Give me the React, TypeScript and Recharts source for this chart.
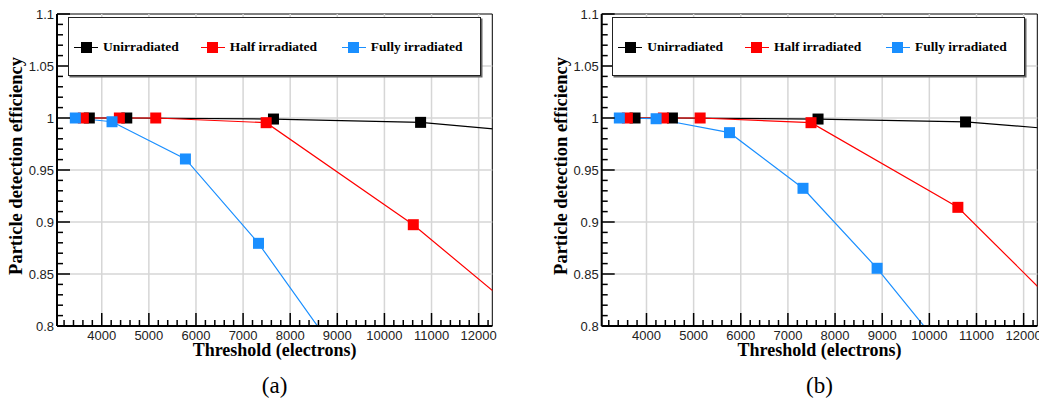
import React from 'react';
import { LineChart, Line, XAxis, YAxis, ReferenceLine, ReferenceArea } from 'recharts';

// ---------- axis configuration ----------
const X_DOMAIN: [number, number] = [3050, 12290];
const Y_DOMAIN: [number, number] = [0.8, 1.1];
const xMajorTicks = [4000, 5000, 6000, 7000, 8000, 9000, 10000, 11000, 12000];
const xAllTicks = Array.from({ length: 46 }, (_, i) => 3200 + i * 200);
const yMajorTicks = [0.8, 0.85, 0.9, 0.95, 1, 1.05, 1.1];
const yAllTicks = Array.from({ length: 31 }, (_, i) => Math.round((0.8 + i * 0.01) * 100) / 100);
const yGridValues = [0.85, 0.9, 0.95, 1, 1.05];

// ---------- series names / colours ----------
const seriesNames = ['Unirradiated', 'Half irradiated', 'Fully irradiated'];
const seriesColors = ['#000000', '#ff0000', '#1a8fff'];

// ---------- panel (a) data ----------
const unirrA_x = [3736, 4531, 7645, 10768, 13700];
const unirrA_y = [1.0, 1.0, 0.999, 0.9958, 0.984];
const halfA_x = [3609, 4374, 5146, 7490, 10613, 13700];
const halfA_y = [1.0, 1.0, 1.0, 0.9955, 0.8974, 0.781];
const fullA_x = [3439, 4218, 5776, 7327, 8900];
const fullA_y = [1.0, 0.9964, 0.9606, 0.8795, 0.7796];

// ---------- panel (b) data ----------
const unirrB_x = [3757, 4550, 7639, 10768, 13700];
const unirrB_y = [1.0, 1.0, 0.999, 0.9962, 0.9856];
const halfB_x = [3594, 4359, 5138, 7490, 10605, 13700];
const halfB_y = [1.0, 1.0, 1.0, 0.9955, 0.9141, 0.775];
const fullB_x = [3424, 4204, 5761, 7320, 8892, 10600];
const fullB_y = [1.0, 0.9993, 0.9859, 0.9324, 0.8555, 0.76];

const toPoints = (xs: number[], ys: number[]) => xs.map((x, i) => ({ x, y: ys[i] }));

const SANS = "'Liberation Sans', Arial, Helvetica, sans-serif";
const SERIF = "'Liberation Serif', 'Times New Roman', Times, serif";

const XTick = (props: any) => {
  const { x, y, payload } = props;
  const v = payload.value;
  const major = xMajorTicks.includes(v);
  return (
    <g>
      <line x1={x} x2={x} y1={y} y2={y - (major ? 13 : 6)} stroke="#000" strokeWidth={1.5} />
      {major && (
        <text x={x} y={y + 13.5} textAnchor="middle" fontFamily={SANS} fontSize={13} fill="#222">
          {v}
        </text>
      )}
    </g>
  );
};

const YTick = (props: any) => {
  const { x, y, payload } = props;
  const v = payload.value;
  const major = yMajorTicks.some((m) => Math.abs(m - v) < 1e-6);
  return (
    <g>
      <line x1={x} x2={x + (major ? 13 : 6)} y1={y} y2={y} stroke="#000" strokeWidth={1.5} />
      {major && (
        <text x={x - 3} y={y + 4.5} textAnchor="end" fontFamily={SANS} fontSize={13} fill="#222">
          {String(v)}
        </text>
      )}
    </g>
  );
};

const makeSquare = (color: string) => (props: any) => {
  const { cx, cy, index } = props;
  if (cx == null || cy == null) return <g key={index} />;
  return <rect key={index} x={cx - 5.5} y={cy - 5.5} width={11} height={11} fill={color} />;
};

type PanelProps = {
  left: number;
  width: number;
  marginLeft: number;
  marginRight: number;
  series: { x: number; y: number }[][];
};

const Panel = ({ left, width, marginLeft, marginRight, series }: PanelProps) => (
  <div style={{ position: 'absolute', left, top: 0 }}>
    <LineChart
      width={width}
      height={404}
      margin={{ top: 14, right: marginRight, bottom: 48, left: marginLeft }}
    >
      <XAxis
        type="number"
        dataKey="x"
        domain={X_DOMAIN}
        allowDataOverflow
        ticks={xAllTicks}
        interval={0}
        tickSize={0}
        tickMargin={0}
        tickLine={false}
        tick={<XTick />}
        height={30}
        axisLine={{ stroke: '#000', strokeWidth: 2 }}
      />
      <YAxis
        type="number"
        dataKey="y"
        domain={Y_DOMAIN}
        allowDataOverflow
        ticks={yAllTicks}
        interval={0}
        tickSize={0}
        tickMargin={0}
        tickLine={false}
        tick={<YTick />}
        width={40}
        axisLine={{ stroke: '#000', strokeWidth: 2 }}
      />
      {xMajorTicks.map((v) => (
        <ReferenceLine key={'gx' + v} x={v} stroke="#d6d6d6" strokeWidth={1.5} />
      ))}
      {yGridValues.map((v) => (
        <ReferenceLine key={'gy' + v} y={v} stroke="#d6d6d6" strokeWidth={1.5} />
      ))}
      <ReferenceArea
        x1={X_DOMAIN[0]}
        x2={X_DOMAIN[1]}
        y1={Y_DOMAIN[0]}
        y2={Y_DOMAIN[1]}
        fill="none"
        fillOpacity={0}
        stroke="#000"
        strokeWidth={1}
      />
      {series.map((pts, i) => (
        <Line
          key={seriesNames[i]}
          data={pts}
          dataKey="y"
          type="linear"
          stroke={seriesColors[i]}
          strokeWidth={1.2}
          dot={makeSquare(seriesColors[i])}
          activeDot={false}
          isAnimationActive={false}
        />
      ))}
    </LineChart>
  </div>
);

const LegendBox = ({ left }: { left: number }) => {
  const markerOffsets = [17, 143.7, 284.7];
  return (
    <div
      style={{
        position: 'absolute',
        left,
        top: 16.7,
        width: 413,
        height: 59,
        boxSizing: 'border-box',
        background: '#fff',
        border: '1px solid #222',
        boxShadow: '1.5px 1.5px 0 #666',
      }}
    >
      {seriesNames.map((name, i) => (
        <React.Fragment key={name}>
          <div
            style={{
              position: 'absolute',
              left: markerOffsets[i] - 12,
              top: 29,
              width: 24,
              height: 1.2,
              background: seriesColors[i],
            }}
          />
          <div
            style={{
              position: 'absolute',
              left: markerOffsets[i] - 5.5,
              top: 24,
              width: 11,
              height: 11,
              background: seriesColors[i],
            }}
          />
          <div
            style={{
              position: 'absolute',
              left: markerOffsets[i] + 17,
              top: 20,
              fontFamily: SERIF,
              fontWeight: 'bold',
              fontSize: 13.5,
              lineHeight: '18px',
              color: '#000',
              whiteSpace: 'nowrap',
            }}
          >
            {name}
          </div>
        </React.Fragment>
      ))}
    </div>
  );
};

const Titles = () => (
  <svg
    width={1039}
    height={404}
    style={{ position: 'absolute', left: 0, top: 0, pointerEvents: 'none' }}
  >
    {[
      { cx: 274.6, ylx: 22, label: '(a)' },
      { cx: 819.5, ylx: 566.5, label: '(b)' },
    ].map((p) => (
      <g key={p.label}>
        <text
          x={p.cx}
          y={356}
          textAnchor="middle"
          fontFamily={SERIF}
          fontWeight="bold"
          fontSize={18}
          fill="#000"
        >
          Threshold (electrons)
        </text>
        <text
          transform={`translate(${p.ylx},166) rotate(-90)`}
          textAnchor="middle"
          fontFamily={SERIF}
          fontWeight="bold"
          fontSize={18.5}
          fill="#000"
        >
          Particle detection efficiency
        </text>
        <text x={p.cx} y={393} textAnchor="middle" fontFamily={SERIF} fontSize={23} fill="#000">
          {p.label}
        </text>
      </g>
    ))}
  </svg>
);

export default function App() {
  const seriesA = [toPoints(unirrA_x, unirrA_y), toPoints(halfA_x, halfA_y), toPoints(fullA_x, fullA_y)];
  const seriesB = [toPoints(unirrB_x, unirrB_y), toPoints(halfB_x, halfB_y), toPoints(fullB_x, fullB_y)];
  return (
    <div
      style={{
        position: 'absolute',
        left: 0,
        top: 0,
        width: 1039,
        height: 404,
        background: '#fff',
        overflow: 'hidden',
      }}
    >
      <Panel left={0} width={520} marginLeft={17} marginRight={27.7} series={seriesA} />
      <Panel left={520} width={519} marginLeft={41.7} marginRight={1.7} series={seriesB} />
      <Titles />
      <LegendBox left={68} />
      <LegendBox left={612.3} />
    </div>
  );
}
